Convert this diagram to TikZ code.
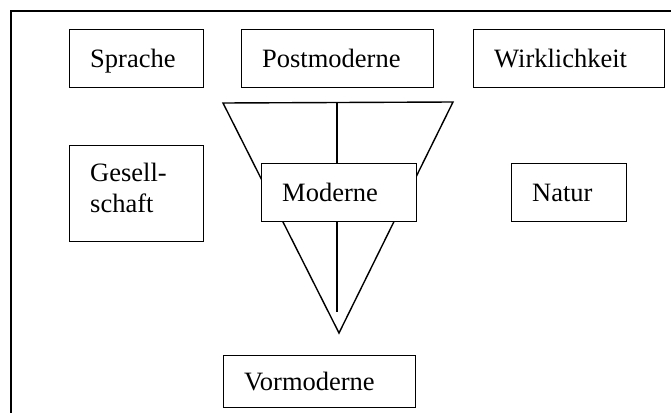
\documentclass[tikz,border=0pt]{standalone}
\usepackage{fontspec}
\setmainfont{Liberation Serif}
\begin{document}
\begin{tikzpicture}[x=1pt,y=-1pt,
  every node/.style={font=\fontsize{26.5}{31}\selectfont},
  rule/.style={line width=1.4pt, line join=miter},
  tbox/.style={rule, draw, fill=white, anchor=north west,
    inner xsep=20.5pt, inner ysep=0pt, align=left,
    text height=19pt, text depth=2pt},
  tboxml/.style={rule, draw, fill=white, anchor=north west,
    inner xsep=20.5pt, inner ysep=0pt, align=left}]
  \useasboundingbox (0,0) rectangle (671,412);
  \clip (0,0) rectangle (671,412);

  % surrounding frame (continues past the right and lower edges)
  \draw[line width=1.5pt] (11,430) -- (11,11) -- (690,11);

  % funnel: inverted triangle with its middle axis
  \coordinate (tl) at (223,103);
  \coordinate (tr) at (453,102);
  \coordinate (apex) at (339,333);
  \coordinate (axtop) at (337,103);
  \coordinate (axbot) at (337,312);
  \draw[rule] (tl) -- (tr) -- (apex) -- cycle;
  \draw[rule] (axtop) -- (axbot);

  % top row
  \node[tbox, minimum height=58pt, text width=93pt] (sprache) at (69,29) {Sprache};
  \node[tbox, minimum height=58pt, text width=151pt] (postmoderne) at (241,29) {Postmoderne};
  \node[tbox, minimum height=58pt, text width=150pt] (wirklichkeit) at (473,29) {Wirklichkeit};

  % middle row
  \node[tboxml, minimum height=96pt, text width=93pt] (gesellschaft) at (69,145)
    {Gesell-\\schaft\rule[-12pt]{0pt}{12pt}};
  \node[tbox, minimum height=58pt, text width=114pt] (moderne) at (261,163) {Moderne};
  \node[tbox, minimum height=58pt, text width=74pt] (natur) at (511,163) {Natur};

  % bottom
  \node[tbox, minimum height=52pt, text width=151pt] (vormoderne) at (223,355) {Vormoderne};
\end{tikzpicture}
\end{document}
